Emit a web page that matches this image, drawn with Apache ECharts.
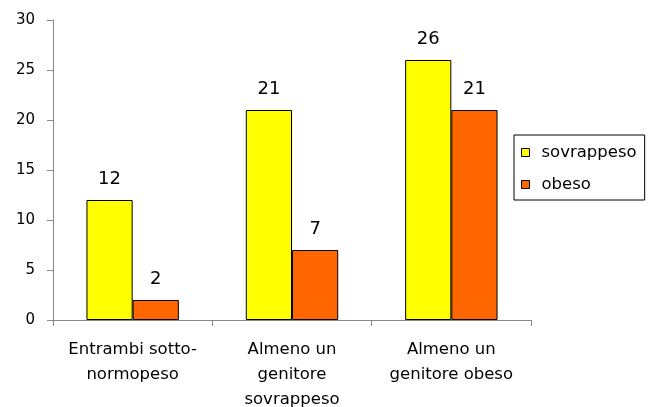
<!DOCTYPE html>
<html><head><meta charset="utf-8">
<script src="https://cdn.jsdelivr.net/npm/echarts@6/dist/echarts.min.js"></script>
<style>html,body{margin:0;padding:0;background:#fff}#c{width:653px;height:407px}</style>
</head><body><div id="c"></div>
<script>
const categories = ["Entrambi sotto-\nnormopeso", "Almeno un\ngenitore\nsovrappeso", "Almeno un\ngenitore obeso"];
const seriesNames = ["sovrappeso", "obeso"];
const sovrappeso = [12, 21, 26];
const obeso = [2, 7, 21];
const colors = ["#FFFF00", "#FF6600"];
const FONT = "DejaVu Sans, sans-serif";
const chart = echarts.init(document.getElementById('c'), null, {renderer: 'canvas'});
const mk = (name, data, color) => ({
  name, type: 'bar', data, barGap: '0%', barCategoryGap: '42%',
  itemStyle: {color, borderColor: '#000', borderWidth: 1},
  label: {show: true, position: 'top', distance: 12, color: '#000', fontSize: 18, fontFamily: FONT},
  animation: false
});
chart.setOption({
  animation: false,
  grid: {left: 53, right: 122, top: 20, bottom: 87, containLabel: false, outerBoundsMode: 'none'},
  legend: {
    orient: 'vertical', left: 514, top: 135,
    data: seriesNames,
    icon: 'rect', itemWidth: 8, itemHeight: 8, itemGap: 15,
    padding: [9, 8, 7, 7],
    borderColor: '#000', borderWidth: 1,
    itemStyle: {borderColor: '#000', borderWidth: 1},
    textStyle: {fontSize: 16.5, fontFamily: FONT, color: '#000', lineHeight: 16, padding: [0, 0, 0, 7]}
  },
  xAxis: {
    type: 'category', data: categories,
    axisLine: {lineStyle: {color: '#888', width: 1}},
    axisTick: {show: true, length: 6, lineStyle: {color: '#888'}, alignWithLabel: false},
    axisLabel: {color: '#000', fontSize: 16.5, fontFamily: FONT, lineHeight: 25, margin: 17, interval: 0}
  },
  yAxis: {
    type: 'value', min: 0, max: 30, interval: 5,
    axisLine: {show: true, lineStyle: {color: '#888', width: 1}},
    axisTick: {show: true, length: 6, lineStyle: {color: '#888'}},
    splitLine: {show: false},
    axisLabel: {color: '#000', fontSize: 15, fontFamily: FONT, margin: 18}
  },
  series: [mk(seriesNames[0], sovrappeso, colors[0]), mk(seriesNames[1], obeso, colors[1])]
});
</script></body></html>
